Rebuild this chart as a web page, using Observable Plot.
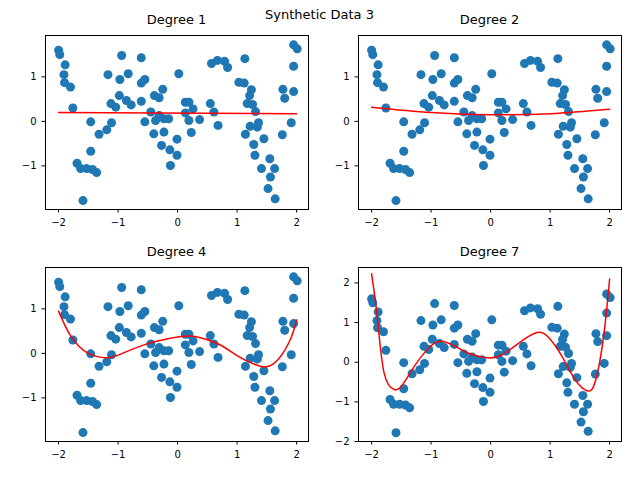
<!DOCTYPE html>
<html><head><meta charset="utf-8">
<script src="https://cdn.jsdelivr.net/npm/d3@7"></script>
<script src="https://cdn.jsdelivr.net/npm/@observablehq/plot@0.6"></script>
<style>
body{margin:0;background:#fff;font-family:"DejaVu Sans",sans-serif}
#wrap{position:relative;width:640px;height:480px}
.p{position:absolute}
.t{position:absolute;font-size:13px;text-align:center;width:263px}
</style></head><body>
<div id="wrap"><div class="t" style="left:188px;width:263px;top:7px">Synthetic Data 3</div></div>
<script>
const xs = [-2.00,-1.98,-1.89,-1.91,-1.90,-1.80,-1.76,-1.46,-1.32,-1.19,-1.11,-1.46,-1.69,-1.63,-1.53,-1.43,-1.36,-1.59,-1.17,-0.94,-0.97,-0.83,-0.98,-1.12,-1.04,-0.86,-0.78,-0.61,-0.61,-0.55,-0.61,-0.55,-0.25,-0.39,-0.31,-0.45,-0.40,-0.31,-0.23,-0.15,-0.37,-0.23,-0.27,-0.13,-0.01,-0.12,-0.01,0.02,0.57,0.67,0.79,0.84,1.13,1.03,1.12,1.24,1.21,1.17,1.26,1.31,0.13,0.19,0.26,0.13,0.19,0.37,0.23,0.55,0.61,0.68,1.36,1.22,1.34,1.14,1.45,1.28,1.30,1.55,1.41,1.63,1.56,1.52,1.64,1.76,1.91,1.77,1.80,1.95,1.95,1.95,2.01];
const ys = [1.60,1.50,1.27,1.05,0.87,0.77,0.30,-0.01,-0.29,-0.19,-0.03,-0.67,-0.94,-1.06,-1.06,-1.08,-1.15,-1.78,1.05,1.48,0.94,1.07,0.58,0.40,0.32,0.47,0.37,1.43,0.86,0.94,0.45,-0.01,0.72,0.58,0.53,0.21,-0.28,0.13,0.06,0.06,0.02,-0.24,-0.54,-0.64,-0.76,-0.99,-0.40,1.07,1.30,1.37,1.35,1.21,1.41,0.88,0.86,0.71,0.58,0.40,0.38,0.22,0.43,0.43,0.28,0.19,0.02,0.04,-0.25,0.40,0.21,-0.09,-0.03,-0.11,-0.13,-0.29,-0.39,-0.52,-0.76,-0.84,-1.06,-1.06,-1.25,-1.51,-1.74,-0.30,-0.03,0.72,0.52,0.67,1.24,1.72,1.63];
const points = xs.map((x,i)=>({x,y:ys[i]}));

const fit1x = [-2,2], fit1y = [0.20,0.17];
const fit2x = [-2,-1,0,1,2], fit2y = [0.32,0.20,0.15,0.17,0.27];
const fit4x = [-2,-1.8,-1.5,-1.2,-1,-0.5,0,0.3,0.7,1,1.3,1.5,1.7,1.9,2];
const fit4y = [0.95,0.40,0.00,-0.10,-0.04,0.22,0.37,0.38,0.20,-0.05,-0.25,-0.30,-0.12,0.33,0.75];
const fit7x = [-2,-1.90,-1.79,-1.62,-1.48,-1.28,-1.09,-0.86,-0.58,-0.36,-0.05,0.20,0.48,0.78,0.98,1.20,1.42,1.62,1.76,1.90,2.0];
const fit7y = [2.23,1.08,-0.27,-0.69,-0.57,-0.10,0.28,0.53,0.39,0.22,0.11,0.19,0.49,0.75,0.62,0.15,-0.44,-0.72,-0.48,0.66,2.10];

const panels = [
 {title:"Degree 1", fx:fit1x, fy:fit1y, left:0, top:0, yd:[-1.98,1.93], yt:[-1,0,1]},
 {title:"Degree 2", fx:fit2x, fy:fit2y, left:313, top:0, yd:[-1.98,1.93], yt:[-1,0,1]},
 {title:"Degree 4", fx:fit4x, fy:fit4y, left:0, top:232, yd:[-1.98,1.93], yt:[-1,0,1]},
 {title:"Degree 7", fx:fit7x, fy:fit7y, left:313, top:232, yd:[-2.0,2.39], yt:[-2,-1,0,1,2]}
];
const wrap = document.getElementById("wrap");
for (const p of panels) {
  const line = p.fx.map((x,i)=>({x,y:p.fy[i]}));
  const chart = Plot.plot({
    width:320, height:240, marginLeft:45, marginRight:12, marginTop:35, marginBottom:31,
    style:{fontFamily:"DejaVu Sans", fontSize:"10px", color:"#000", background:"transparent"},
    x:{domain:[-2.22,2.2], ticks:[-2,-1,0,1,2], tickSize:3.5, label:null, tickFormat:d3.format("d")},
    y:{domain:p.yd, ticks:p.yt, tickSize:3.5, label:null, tickFormat:d3.format("d")},
    marks:[
      Plot.dot(points,{x:"x",y:"y",r:4.5,fill:"#1f77b4",stroke:null}),
      Plot.line(line,{x:"x",y:"y",stroke:"red",strokeWidth:1.5,curve:"natural"}),
      Plot.frame({stroke:"#000"}),
      Plot.axisX({ticks:[-2,-1,0,1,2],tickSize:3.5,tickFormat:d3.format("d"),label:null}),
      Plot.axisY({ticks:p.yt,tickSize:3.5,tickFormat:d3.format("d"),label:null})
    ]
  });
  chart.classList.add("p");
  chart.style.left=p.left+"px"; chart.style.top=p.top+"px";
  wrap.appendChild(chart);
  const t=document.createElement("div");
  t.className="t"; t.textContent=p.title;
  t.style.left=(p.left+45)+"px"; t.style.top=(p.top+12)+"px";
  wrap.appendChild(t);
}
</script></body></html>
